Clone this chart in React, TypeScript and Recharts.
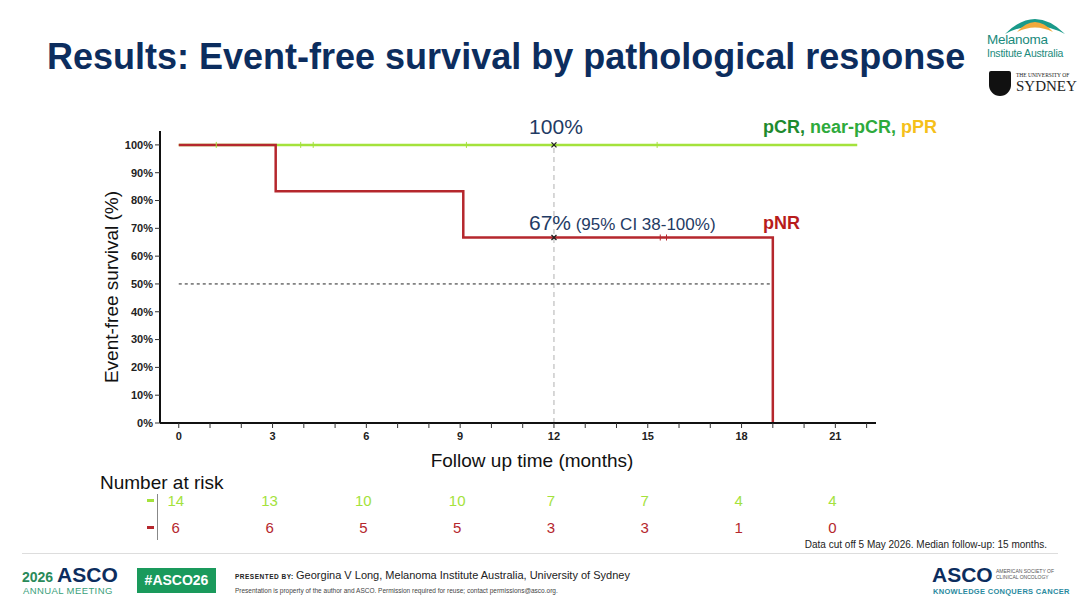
import {
  ComposedChart,
  Line,
  Scatter,
  XAxis,
  YAxis,
  ReferenceLine,
  ReferenceDot,
} from 'recharts'

// Kaplan-Meier steps (months, EFS %)
const GOOD_RESPONSE = [
  { t: 0, s: 100 },
  { t: 21.7, s: 100 },
]
const NO_RESPONSE = [
  { t: 0, s: 100 },
  { t: 3.1, s: 83.3 },
  { t: 9.1, s: 66.7 },
  { t: 19, s: 66.7 },
  { t: 19, s: 0 },
]
const GOOD_CENSORED = [
  { t: 1.2, s: 100 },
  { t: 3.9, s: 100 },
  { t: 4.3, s: 100 },
  { t: 9.2, s: 100 },
  { t: 15.3, s: 100 },
]
const NO_CENSORED = [
  { t: 15.4, s: 66.7 },
  { t: 15.6, s: 66.7 },
]

const X_TICKS = [0, 1, 2, 3, 4, 5, 6, 7, 8, 9, 10, 11, 12, 13, 14, 15, 16, 17, 18, 19, 20, 21, 22]
const Y_TICKS = [0, 10, 20, 30, 40, 50, 60, 70, 80, 90, 100]

const RISK_TIMES = [0, 3, 6, 9, 12, 15, 18, 21]
const RISK_GOOD = [14, 13, 10, 10, 7, 7, 4, 4]
const RISK_NO = [6, 6, 5, 5, 3, 3, 1, 0]

const GREEN = '#a4e23c'
const RED = '#b5272d'
const NAVY = '#0c2d5e'
const ANNOT = '#1f3b64'
const FONT = '"Liberation Sans", Arial, sans-serif'

const X_DOMAIN: [number, number] = [-0.6, 22.3]

const riskRows = RISK_TIMES.flatMap((t, i) => [
  { t, row: 1, n: RISK_GOOD[i], color: GREEN },
  { t, row: 0, n: RISK_NO[i], color: RED },
])

function XTick(props: any) {
  const { x, y, payload } = props
  if (payload.value % 3 !== 0) return <g />
  return (
    <text x={x} y={y + 10} textAnchor="middle" fontSize={11} fontWeight="bold" fill="#222" fontFamily={FONT}>
      {payload.value}
    </text>
  )
}

function censorShape(color: string) {
  return (p: any) => (
    <line x1={p.cx} x2={p.cx} y1={p.cy - 3} y2={p.cy + 3} stroke={color} strokeWidth={1} />
  )
}

function crossShape(p: any) {
  const { cx, cy } = p
  return (
    <g stroke="#222" strokeWidth={1.3}>
      <line x1={cx - 2.5} y1={cy - 2.5} x2={cx + 2.5} y2={cy + 2.5} />
      <line x1={cx - 2.5} y1={cy + 2.5} x2={cx + 2.5} y2={cy - 2.5} />
    </g>
  )
}

function riskText(p: any) {
  const { cx, cy, payload } = p
  return (
    <text x={cx - 3} y={cy + 5} textAnchor="middle" fontSize={15} fill={payload.color} fontFamily={FONT}>
      {payload.n}
    </text>
  )
}

const abs = (left: number, top: number, extra: any = {}) => ({
  position: 'absolute' as const,
  left,
  top,
  whiteSpace: 'nowrap' as const,
  fontFamily: FONT,
  ...extra,
})

export default function App() {
  return (
    <div style={{ position: 'absolute', left: 0, top: 0, width: 1080, height: 608, background: '#fff', overflow: 'hidden' }}>
      {/* title */}
      <div style={abs(47, 36, { fontSize: 36, fontWeight: 'bold', color: NAVY, lineHeight: '42px' })}>
        Results: Event-free survival by pathological response
      </div>

      {/* Melanoma Institute Australia logo */}
      <svg width={64} height={22} style={{ position: 'absolute', left: 1003, top: 14 }}>
        <path d="M2 20 Q32 -10 62 20 Q32 4 2 20 Z" fill="#1a9a8a" />
        <path d="M14 18 Q32 -2 50 18 Q32 9 14 18 Z" fill="#f2a93b" />
      </svg>
      <div style={abs(987, 32, { fontSize: 13.5, color: '#1a8a7c', lineHeight: '15px', letterSpacing: -0.3 })}>Melanoma</div>
      <div style={abs(987, 47, { fontSize: 10.5, color: '#1a8a7c', lineHeight: '12px', letterSpacing: -0.2 })}>Institute Australia</div>

      {/* University of Sydney logo */}
      <div style={abs(989, 71, { width: 22, height: 25, background: '#111', borderRadius: '2px 2px 11px 11px' })} />
      <div style={abs(1016, 72, { fontSize: 5.5, color: '#222', fontFamily: '"Liberation Serif", serif' })}>THE UNIVERSITY OF</div>
      <div style={abs(1016, 78, { fontSize: 15, color: '#222', fontFamily: '"Liberation Serif", serif', lineHeight: '17px' })}>SYDNEY</div>

      {/* main KM chart */}
      <div style={{ position: 'absolute', left: 0, top: 0 }}>
        <ComposedChart width={1080} height={608} margin={{ top: 131, right: 204, bottom: 155, left: 100 }}>
          <XAxis
            dataKey="t"
            type="number"
            domain={X_DOMAIN}
            ticks={X_TICKS}
            interval={0}
            allowDataOverflow
            tick={<XTick />}
            tickSize={5}
            height={30}
            axisLine={{ stroke: '#111', strokeWidth: 2 }}
            tickLine={{ stroke: '#333' }}
          />
          <YAxis
            dataKey="s"
            type="number"
            domain={[0, 105]}
            ticks={Y_TICKS}
            interval={0}
            allowDataOverflow
            width={60}
            tickSize={5}
            tickFormatter={(v: number) => `${v}%`}
            tick={{ fontSize: 11, fontWeight: 'bold', fill: '#222', fontFamily: FONT }}
            axisLine={{ stroke: '#111', strokeWidth: 2 }}
            tickLine={{ stroke: '#333' }}
          />
          <ReferenceLine
            segment={[{ x: 12, y: 0 }, { x: 12, y: 100 }]}
            stroke="#b0b0b0"
            strokeDasharray="5 4"
            strokeWidth={1}
          />
          <ReferenceLine
            segment={[{ x: 0, y: 50 }, { x: 19, y: 50 }]}
            stroke="#222"
            strokeDasharray="3 3"
            strokeWidth={1}
          />
          <Line
            data={GOOD_RESPONSE}
            dataKey="s"
            type="stepAfter"
            stroke={GREEN}
            strokeWidth={2.5}
            dot={false}
            activeDot={false}
            isAnimationActive={false}
          />
          <Line
            data={NO_RESPONSE}
            dataKey="s"
            type="stepAfter"
            stroke={RED}
            strokeWidth={2.5}
            dot={false}
            activeDot={false}
            isAnimationActive={false}
          />
          <Scatter data={GOOD_CENSORED} dataKey="s" shape={censorShape(GREEN)} isAnimationActive={false} />
          <Scatter data={NO_CENSORED} dataKey="s" shape={censorShape(RED)} isAnimationActive={false} />
          <ReferenceDot
            x={12}
            y={100}
            r={3}
            shape={crossShape}
            label={(p: any) => (
              <text x={p.viewBox.x + 5} y={p.viewBox.y - 8} textAnchor="middle" fontSize={21} fill={ANNOT} fontFamily={FONT}>
                100%
              </text>
            )}
          />
          <ReferenceDot
            x={12}
            y={66.7}
            r={3}
            shape={crossShape}
            label={(p: any) => (
              <text x={p.viewBox.x - 22} y={p.viewBox.y - 5} fontSize={21} fill={ANNOT} fontFamily={FONT}>
                67%<tspan fontSize={17}> (95% CI 38-100%)</tspan>
              </text>
            )}
          />
        </ComposedChart>
      </div>

      {/* axis titles */}
      <div
        style={abs(112, 287, {
          fontSize: 19,
          color: '#111',
          transform: 'translate(-50%, -50%) rotate(-90deg)',
        })}
      >
        Event-free survival (%)
      </div>
      <div style={abs(532, 461, { fontSize: 19, color: '#111', transform: 'translate(-50%, -50%)' })}>
        Follow up time (months)
      </div>

      {/* curve labels */}
      <div style={abs(763, 116, { fontSize: 18, fontWeight: 'bold', lineHeight: '22px' })}>
        <span style={{ color: '#1e8a2e' }}>pCR, </span>
        <span style={{ color: '#2eaa3c' }}>near-pCR, </span>
        <span style={{ color: '#f5c01a' }}>pPR</span>
      </div>
      <div style={abs(763, 212, { fontSize: 18, fontWeight: 'bold', color: '#b81c1c', lineHeight: '22px' })}>pNR</div>

      {/* number at risk */}
      <div style={abs(100, 474, { fontSize: 19, color: '#111', lineHeight: '17px' })}>Number at risk</div>
      <div style={abs(147, 499, { width: 7, height: 3, background: GREEN })} />
      <div style={abs(147, 526, { width: 7, height: 3, background: RED })} />
      <div style={abs(157, 494, { width: 1, height: 46, background: '#888' })} />
      <div style={{ position: 'absolute', left: 0, top: 487 }}>
        <ComposedChart width={1080} height={55} margin={{ top: 0, right: 204, bottom: 0, left: 160 }}>
          <XAxis dataKey="t" type="number" domain={X_DOMAIN} hide />
          <YAxis dataKey="row" type="number" domain={[-0.5, 1.5]} hide />
          <Scatter data={riskRows} dataKey="row" shape={riskText} isAnimationActive={false} />
        </ComposedChart>
      </div>

      {/* footer */}
      <div style={abs(1047, 539, { fontSize: 10, color: '#222', transform: 'translateX(-100%)' })}>
        Data cut off 5 May 2026. Median follow-up: 15 months.
      </div>
      <div style={abs(22, 553, { width: 1036, height: 1, background: '#ddd' })} />

      <div style={abs(22, 563, { lineHeight: '24px' })}>
        <span style={{ color: '#2a8a5a', fontSize: 14, fontWeight: 'bold' }}>2026 </span>
        <span style={{ color: NAVY, fontWeight: 'bold', fontSize: 21 }}>ASCO</span>
      </div>
      <div style={abs(23, 585, { fontSize: 9.5, color: '#3aa07a', letterSpacing: 0.4 })}>ANNUAL MEETING</div>
      <div
        style={abs(137, 568, {
          width: 79,
          height: 25,
          background: '#1a9a5c',
          color: '#fff',
          fontSize: 14,
          fontWeight: 'bold',
          lineHeight: '25px',
          textAlign: 'center',
        })}
      >
        #ASCO26
      </div>
      <div style={abs(235, 569, { fontSize: 11, color: '#222' })}>
        <span style={{ fontSize: 6.5, fontWeight: 'bold', letterSpacing: 0.5 }}>PRESENTED BY: </span>
        Georgina V Long, Melanoma Institute Australia, University of Sydney
      </div>
      <div style={abs(235, 587, { fontSize: 6.5, color: '#444' })}>
        Presentation is property of the author and ASCO. Permission required for reuse; contact permissions@asco.org.
      </div>

      <div style={abs(932, 564, { fontSize: 21, fontWeight: 'bold', color: NAVY, lineHeight: '22px' })}>ASCO</div>
      <div style={abs(996, 568, { fontSize: 5, color: '#555', lineHeight: '6px' })}>
        AMERICAN SOCIETY OF
        <br />
        CLINICAL ONCOLOGY
      </div>
      <div style={abs(933, 587, { fontSize: 7.5, color: '#2a8aa0', fontWeight: 'bold', letterSpacing: 0.3 })}>
        KNOWLEDGE CONQUERS CANCER
      </div>
    </div>
  )
}
